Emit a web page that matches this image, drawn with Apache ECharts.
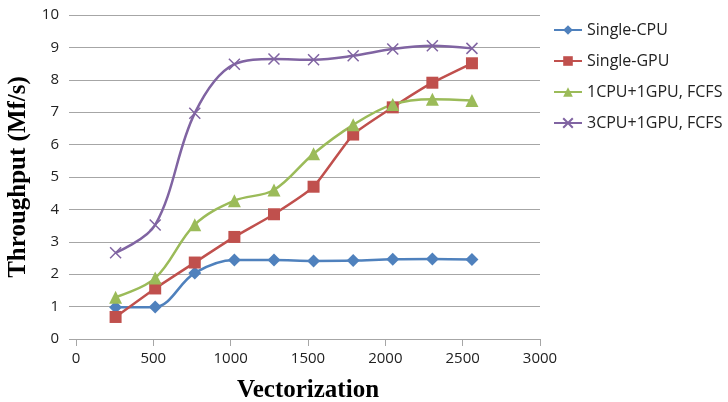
<!DOCTYPE html>
<html><head><meta charset="utf-8">
<script src="https://cdn.jsdelivr.net/npm/echarts@6/dist/echarts.min.js"></script>
<style>html,body{margin:0;padding:0;background:#fff}#c{width:728px;height:402px}</style>
</head><body><div id="c"></div>
<script>
const xValues = [256, 512, 768, 1024, 1280, 1536, 1792, 2048, 2304, 2560];
const singleCPU = [0.98, 0.99, 2.04, 2.44, 2.44, 2.41, 2.42, 2.46, 2.47, 2.45];
const singleGPU = [0.68, 1.56, 2.36, 3.15, 3.85, 4.70, 6.31, 7.15, 7.91, 8.51];
const cpu1gpu1 = [1.29, 1.88, 3.53, 4.27, 4.60, 5.72, 6.61, 7.24, 7.40, 7.36];
const cpu3gpu1 = [2.66, 3.52, 6.97, 8.48, 8.64, 8.62, 8.74, 8.95, 9.05, 8.97];
const seriesNames = ['Single-CPU', 'Single-GPU', '1CPU+1GPU, FCFS', '3CPU+1GPU, FCFS'];

const pair = arr => xValues.map((x, i) => [x, arr[i]]);
const cross = 'path://M0 0L10 10M10 0L0 10';
const chart = echarts.init(document.getElementById('c'));
const mk = (name, data, color, symbol, size, extra) => Object.assign({
  name, type: 'line', data: pair(data), smooth: 0.35, symbol, symbolSize: size,
  lineStyle: {color, width: 2.5}, itemStyle: {color}, emphasis: {disabled: true}, z: 3
}, extra || {});
chart.setOption({
  animation: false,
  grid: {left: 76, right: 188, top: 15, bottom: 63, containLabel: false, outerBoundsMode: 'none'},
  legend: {
    orient: 'vertical', left: 553, top: 21, padding: 0, itemGap: 13, itemWidth: 28, itemHeight: 12,
    textStyle: {fontFamily: 'Open Sans', fontSize: 16, color: '#222', lineHeight: 18},
    data: seriesNames
  },
  xAxis: {
    type: 'value', min: 0, max: 3000, interval: 500,
    name: 'Vectorization', nameLocation: 'middle', nameGap: 39,
    nameTextStyle: {fontFamily: 'Liberation Serif', fontWeight: 'bold', fontSize: 25, color: '#000'},
    axisLine: {show: true, lineStyle: {color: '#A6A6A6', width: 1}},
    axisTick: {show: true, length: 7, lineStyle: {color: '#A6A6A6'}},
    axisLabel: {fontFamily: 'Open Sans', fontSize: 15, color: '#222', margin: 12, formatter: v => String(v)},
    splitLine: {show: false}
  },
  yAxis: {
    type: 'value', min: 0, max: 10, interval: 1,
    name: 'Throughput (Mf/s)', nameLocation: 'middle', nameGap: 44,
    nameTextStyle: {fontFamily: 'Liberation Serif', fontWeight: 'bold', fontSize: 25, color: '#000'},
    axisLine: {show: false},
    axisTick: {show: true, length: 7, lineStyle: {color: '#A6A6A6'}},
    axisLabel: {fontFamily: 'Open Sans', fontSize: 15, color: '#222', margin: 17},
    splitLine: {show: true, lineStyle: {color: '#A6A6A6', width: 1}}
  },
  series: [
    mk(seriesNames[0], singleCPU, '#4F81BD', 'diamond', 13),
    mk(seriesNames[1], singleGPU, '#C0504D', 'rect', 12, {smooth: 0.15}),
    mk(seriesNames[2], cpu1gpu1, '#9BBB59', 'triangle', 13),
    mk(seriesNames[3], cpu3gpu1, '#8064A2', cross, 11, {
      itemStyle: {color: '#8064A2', borderColor: '#8064A2', borderWidth: 1.5}
    })
  ]
});
</script></body></html>
